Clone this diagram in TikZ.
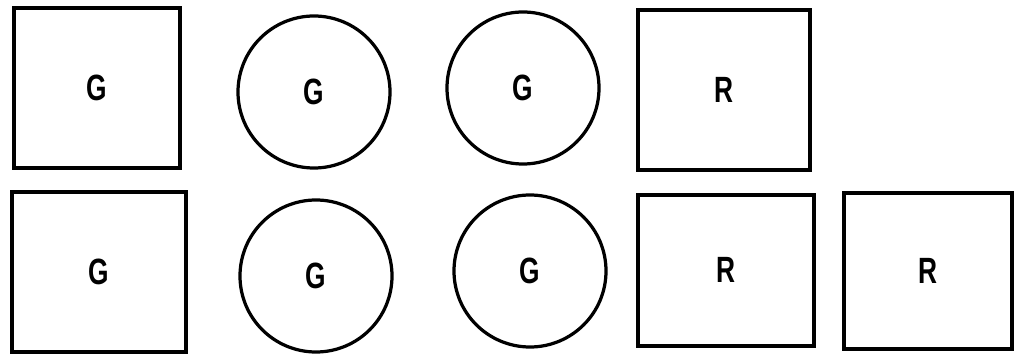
\documentclass[tikz,border=0pt]{standalone}
\usepackage{fontspec}
\newfontfamily\lblfont{Liberation Sans}[FakeStretch=0.72]
\usetikzlibrary{positioning}

\begin{document}
\begin{tikzpicture}[
  font=\lblfont\bfseries\fontsize{26}{30}\selectfont,
  blk/.style={draw,line width=2.8pt,minimum width=4.3cm,minimum height=4.0cm},
  disc/.style={draw,circle,line width=2.3pt,minimum size=3.8cm}
]
\useasboundingbox (0,0) rectangle (25.4,-8.9);

% top row
\node[blk,minimum width=4.15cm] (g1) at (2.425,-2.2) {G};
\node[disc] (c1) at (7.85,-2.3) {G};
\node[disc] (c2) at (13.075,-2.2) {G};
\node[blk,minimum width=4.3cm] (r1) at (18.11,-2.24) {R};

% bottom row
\node[blk,minimum width=4.35cm] (g2) at (2.475,-6.8) {G};
\node[disc] (c3) at (7.9,-6.9) {G};
\node[disc] (c4) at (13.25,-6.775) {G};
\node[blk,minimum width=4.4cm,minimum height=3.78cm] (r2) at (18.15,-6.76) {R};
\node[blk,minimum width=4.2cm,minimum height=3.9cm] (r3) at (23.19,-6.775) {R};
\end{tikzpicture}
\end{document}
